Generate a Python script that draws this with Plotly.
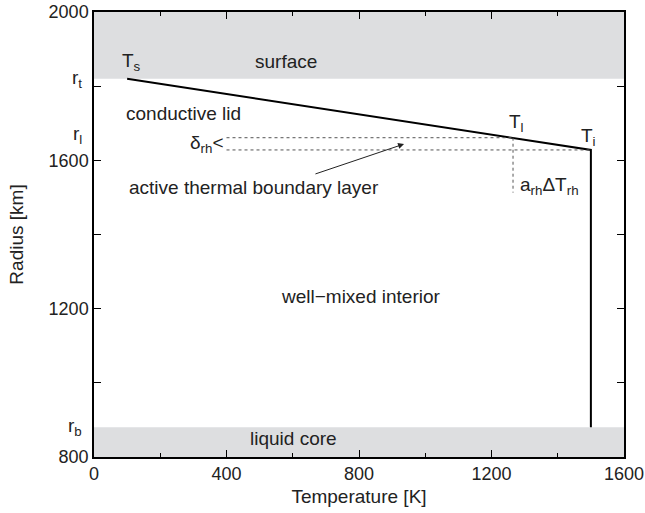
import plotly.graph_objects as go

# Data
T_profile = [100, 1265, 1500, 1500]        # K
R_profile = [1820, 1661, 1628, 880]        # km
r_t = 1820
r_l = 1661
r_i = 1628
r_b = 880
r_min, r_max = 800, 2000
T_min, T_max = 0, 1600
T_dot_start = 400
T_l = 1265
T_i = 1500
r_dot_bottom = 1513
x_ticks = [0, 400, 800, 1200, 1600]
y_ticks = [800, 1200, 1600, 2000]

FONT = "Liberation Sans, Arial, Helvetica, sans-serif"
TC = "#222"

fig = go.Figure()

# Profile line
fig.add_trace(go.Scatter(x=T_profile, y=R_profile, mode="lines",
                         line=dict(color="black", width=2), showlegend=False,
                         hoverinfo="skip"))
# Dotted guide lines
dot = dict(color="#555", width=1, dash="dot")
fig.add_trace(go.Scatter(x=[T_dot_start, T_l], y=[r_l, r_l], mode="lines", line=dot, showlegend=False))
fig.add_trace(go.Scatter(x=[T_dot_start, T_i], y=[r_i, r_i], mode="lines", line=dot, showlegend=False))
fig.add_trace(go.Scatter(x=[T_l, T_l], y=[r_l, r_dot_bottom], mode="lines", line=dot, showlegend=False))

# Gray bands
fig.add_shape(type="rect", x0=T_min, x1=T_max, y0=r_t, y1=r_max, xref="x", yref="y",
              fillcolor="#dddee0", line=dict(width=0), layer="below")
fig.add_shape(type="rect", x0=T_min, x1=T_max, y0=r_min, y1=r_b, xref="x", yref="y",
              fillcolor="#dddee0", line=dict(width=0), layer="below")


def txt(x, y, s, xanchor="center", yanchor="middle", size=19):
    fig.add_annotation(x=x, y=y, xref="x", yref="y", text=s, showarrow=False,
                       xanchor=xanchor, yanchor=yanchor,
                       font=dict(family=FONT, size=size, color=TC))

txt(580, 1866, "surface")
txt(112, 1864, "T<sub>s</sub>")
txt(92, 1725, "conductive lid", xanchor="left")
txt(398, 1643, "δ<sub>rh</sub>&lt;", xanchor="right")
txt(100, 1527, "active thermal boundary layer", xanchor="left")
txt(1275, 1702, "T<sub>l</sub>")
txt(1494, 1664, "T<sub>i</sub>")
txt(1375, 1530, "a<sub>rh</sub>ΔT<sub>rh</sub>")
txt(805, 1234, "well−mixed interior")
txt(603, 851, "liquid core")

# Arrow
fig.add_annotation(x=936, y=1644, ax=664, ay=1562, xref="x", yref="y",
                   axref="x", ayref="y", text="", showarrow=True,
                   arrowhead=2, arrowsize=1.2, arrowwidth=1, arrowcolor=TC)

# Radius labels outside axis
for val, lab in [(r_t, "r<sub>t</sub>"), (r_l + 8, "r<sub>l</sub>"), (r_b, "r<sub>b</sub>")]:
    fig.add_annotation(x=0, y=val, xref="paper", yref="y", text=lab, showarrow=False,
                       xanchor="right", yanchor="middle", xshift=-10,
                       font=dict(family=FONT, size=19, color=TC))

axis_common = dict(showline=True, linecolor="black", linewidth=1.5, mirror="ticks",
                   ticks="inside", ticklen=7, tickwidth=1, tickcolor="black",
                   showgrid=False, zeroline=False, automargin=False,
                   tickfont=dict(family=FONT, size=18, color=TC))

fig.update_xaxes(range=[T_min, T_max], tickvals=x_ticks,
                 title=dict(text="Temperature [K]", font=dict(family=FONT, size=19, color=TC),
                            standoff=6),
                 minor=dict(ticks="inside", ticklen=4, dtick=200, tickcolor="black", showgrid=False),
                 **axis_common)
fig.update_yaxes(range=[r_min, r_max], tickvals=y_ticks,
                 title=dict(text="Radius [km]", font=dict(family=FONT, size=19, color=TC),
                            standoff=20),
                 minor=dict(ticks="inside", ticklen=7, dtick=200, tickcolor="black", showgrid=False),
                 **axis_common)

fig.update_layout(width=645, height=513, margin=dict(l=94, r=21, t=12, b=56),
                  plot_bgcolor="white", paper_bgcolor="white", showlegend=False)

fig.write_html("out.html")
